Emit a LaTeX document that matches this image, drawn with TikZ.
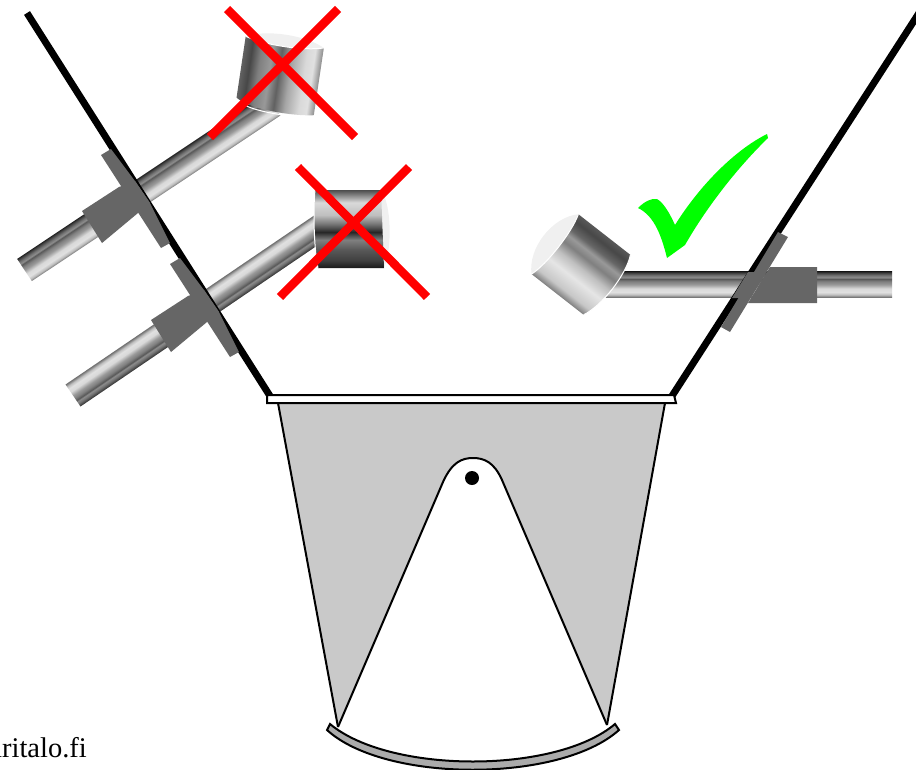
\documentclass[tikz,border=0pt]{standalone}
\usepackage{fontspec}
\setmainfont{Liberation Serif}
\pgfdeclareverticalshading{rodsh}{100bp}{color(0bp)=(black!55);color(25bp)=(black!55);color(30bp)=(black!25);color(35bp)=(black!12);color(42bp)=(black!15);color(50bp)=(black!40);color(56bp)=(black!50);color(61bp)=(black!65);color(64bp)=(black!45);color(68bp)=(black!55);color(73bp)=(black!75);color(75bp)=(black!85);color(100bp)=(black!85)}
\pgfdeclarehorizontalshading{cylup}{100bp}{color(0bp)=(black!62);color(25bp)=(black!62);color(30bp)=(black!72);color(36bp)=(black!50);color(43bp)=(black!40);color(49bp)=(black!62);color(56bp)=(black!35);color(65bp)=(black!15);color(70bp)=(black!12);color(75bp)=(black!45);color(100bp)=(black!45)}
\pgfdeclareverticalshading{cyllow}{100bp}{color(0bp)=(black!90);color(25bp)=(black!90);color(30bp)=(black!75);color(37bp)=(black!65);color(43bp)=(black!50);color(48bp)=(black!85);color(53bp)=(black!55);color(59bp)=(black!25);color(67bp)=(black!15);color(72bp)=(black!50);color(75bp)=(black!70);color(100bp)=(black!70)}
\pgfdeclareverticalshading{cylright}{100bp}{color(0bp)=(black!50);color(25bp)=(black!50);color(30bp)=(black!22);color(40bp)=(black!10);color(48bp)=(black!25);color(55bp)=(black!50);color(60bp)=(black!40);color(64bp)=(black!60);color(70bp)=(black!72);color(75bp)=(black!65);color(100bp)=(black!65)}
\definecolor{mount}{gray}{0.4}
\definecolor{body}{gray}{0.79}
\definecolor{faint}{gray}{0.94}
\tikzset{
  wall/.style={line width=7pt,black},
  mountpart/.style={fill=mount,draw=none},
  bodyline/.style={draw=black,line width=2pt},
  cross/.style={red,line width=8.5pt},
}
% \rodbar{x1}{y1}{x2}{y2}{half width}: shaded bar, its dark side on the left of the direction 1->2
\newcommand{\rodbar}[5]{%
  \pgfmathsetmacro{\rodang}{atan2(-(#4-#2),#3-#1)}%
  \pgfmathsetmacro{\rodlen}{veclen(#3-#1,#4-#2)}%
  \begin{scope}[transform canvas={shift={(#1pt,-#2pt)},rotate=\rodang},x=1pt,y=1pt]
    \shade[shading=rodsh] (0,-#5) rectangle (\rodlen,#5);
  \end{scope}}
\begin{document}
\begin{tikzpicture}[x=1pt,y=-1pt]
\useasboundingbox (0,0) rectangle (916,769);
\clip (0,0) rectangle (916,769);
% rods
\rodbar{24.5}{270}{273}{104.5}{13.3}
\rodbar{322}{226.2}{73}{395.5}{13.3}
\rodbar{605}{284.5}{892}{284.5}{12.7}
% walls
\coordinate (lt) at (27,13);
\coordinate (lb) at (270,396);
\coordinate (rt) at (919,13);
\coordinate (rb) at (672,396);
\draw[wall] (lt) -- (lb);
\draw[wall] (rt) -- (rb);
% left mounts
\foreach \dx/\dy in {0/0,69/109}{
  \begin{scope}[shift={(\dx,\dy)}]
    \fill[mountpart] (101,155) -- (111,149) -- (135,181) -- (150,203) -- (170,243) -- (161,248) -- cycle;
    \fill[mountpart] (82,211) -- (119,187) -- (135,181) -- (150,203) -- (102,243) -- cycle;
  \end{scope}}
% right mount
\fill[mountpart] (778,232) -- (788,237) -- (730,332) -- (721,327) -- cycle;
\fill[mountpart] (770,267) -- (817,267) -- (817,303) -- (748,303) -- cycle;
\fill[mountpart] (748,272) -- (762,272) -- (745,298) -- (732,298) -- cycle;
% upper crossed cylinder
\begin{scope}[transform canvas={shift={(279.75pt,-75.75pt)},rotate=-8.5},x=1pt,y=1pt]
  \fill[faint] (-39.5,34) .. controls (-20,44) and (20,44) .. (39.5,34) .. controls (20,28) and (-20,28) .. cycle;
  \shade[shading=cylup] (-39.5,34) .. controls (-20,28) and (20,28) .. (39.5,34) -- (39.5,-34) .. controls (20,-38) and (-25,-38) .. (-39.5,-28) -- cycle;
  \draw[white,line width=1pt] (-39.5,34) .. controls (-20,28) and (20,28) .. (39.5,34);
  \draw[white,line width=1pt] (-34,-33) .. controls (-22,-38) and (0,-39) .. (20,-38);
\end{scope}
% lower crossed cylinder
\fill[faint] (381,190) .. controls (392,205) and (392,250) .. (384,268) -- (370,268) -- (370,190) -- cycle;
\shade[shading=cyllow] (315,190) -- (381,190) -- (384,268) -- (318,268) .. controls (314,250) and (313,210) .. (315,190) -- cycle;
\draw[white,line width=1pt] (315,190) .. controls (313,210) and (314,250) .. (318,268);
% right cylinder
\begin{scope}[transform canvas={shift={(581pt,-264.5pt)},rotate=-38},x=1pt,y=1pt]
  \fill[faint] (-33,38) .. controls (-52,20) and (-52,-20) .. (-33,-38) -- (-25,0) -- cycle;
  \shade[shading=cylright] (-33,38) -- (33,38) .. controls (42,20) and (42,-20) .. (33,-38) -- (-33,-38) .. controls (-27,-20) and (-27,20) .. cycle;
  \draw[white,line width=1pt] (-33,38) .. controls (-27,20) and (-27,-20) .. (-33,-38);
  \draw[white,line width=1pt] (33,38) .. controls (42,20) and (42,-20) .. (33,-38);
\end{scope}
% crosses
\draw[cross] (227,9) -- (355,137);
\draw[cross] (338,9) -- (210,137);
\draw[cross] (298,167) -- (427,297);
\draw[cross] (409,167) -- (280,297);
% check mark
\fill[green] (638,208) .. controls (645,201) and (652,198) .. (657,199)
  .. controls (664,203) and (670,214) .. (675,225)
  .. controls (700,185) and (735,150) .. (767,134) -- (768,138)
  .. controls (735,170) and (705,210) .. (685,245)
  -- (667,258) .. controls (662,238) and (655,216) .. (638,208) -- cycle;
% combustion body
\fill[body] (278,403) -- (665,403) -- (607,725) -- (338,727) -- cycle;
\fill[white] (338,727) -- (443,482) .. controls (452,462) and (462,458) .. (473,458)
  .. controls (484,458) and (494,462) .. (502,480) -- (607,725) -- cycle;
\draw[white,line width=2pt] (338,727) -- (607,725);
\draw[bodyline] (278,403) -- (338,727);
\draw[bodyline] (665,403) -- (607,725);
\draw[bodyline] (338,727) -- (443,482) .. controls (452,462) and (462,458) .. (473,458)
  .. controls (484,458) and (494,462) .. (502,480) -- (607,725);
\fill[black] (472,478) circle (7);
% deck
\draw[bodyline,fill=white] (267,395) -- (674,395) -- (676,403) -- (267,403) -- cycle;
% bottom arc
\filldraw[fill=black!33,draw=black,line width=2pt] (330,724) .. controls (390,774) and (556,774) .. (615,724)
  -- (619,730) .. controls (560,783) and (385,783) .. (327,730) -- cycle;
% text
\node[anchor=base east,inner sep=0pt,font=\fontsize{28.5}{32}\selectfont] (credit) at (87,757) {aritalo.fi};
\end{tikzpicture}
\end{document}
